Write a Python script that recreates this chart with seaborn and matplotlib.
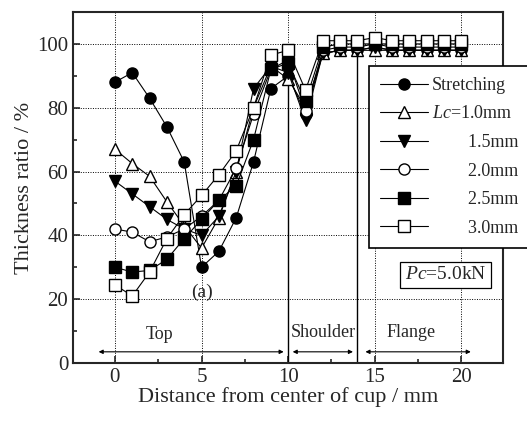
import matplotlib
matplotlib.use("Agg")
import matplotlib.pyplot as plt
from matplotlib.ticker import MultipleLocator
import seaborn as sns

sns.set_style("ticks")
plt.rcParams['font.family'] = ['Liberation Serif', 'DejaVu Serif']
plt.rcParams['mathtext.fontset'] = 'custom'
plt.rcParams['mathtext.rm'] = 'Liberation Serif'
plt.rcParams['mathtext.it'] = 'Liberation Serif:italic'

# distance from center of cup (mm)
dist = list(range(0, 21))

# thickness ratio (%)
stretching = [88, 91, 83, 74, 63, 30, 35, 45.5, 63, 86, 90, 78, 97, 98, 98, 99, 98, 98, 98, 98, 98]
lc_10 = [67, 62.5, 58.5, 50.5, 43, 36, 45.5, 60, 80, 93, 89, 80, 97, 98, 98, 98, 98, 98, 98, 98, 98]
lc_15 = [57, 53, 49, 45, 42, 40, 46, 60, 86, 93, 91, 76, 97, 98, 98, 99, 98, 98, 98, 98, 98]
lc_20 = [42, 41, 38, 39.5, 42, 46, 51, 61, 78, 92, 95, 79, 98, 99, 99, 100, 99, 99, 99, 99, 99]
lc_25 = [30, 28.5, 29, 32.5, 39, 45, 51, 55.5, 70, 92, 94, 82, 99, 100, 100, 100, 100, 100, 100, 100, 100]
lc_30 = [24.5, 21, 28.5, 39, 46.5, 52.5, 59, 66.5, 80, 96.5, 98, 85.5, 101, 101, 101, 102, 101, 101, 101, 101, 101]

labels = ['Stretching', r'$\mathit{Lc}$=1.0mm', '        1.5mm', '        2.0mm', '        2.5mm', '        3.0mm']
regions = ['Top', 'Shoulder', 'Flange']

fig = plt.figure(figsize=(5.27, 4.21), dpi=100)
ax = fig.add_axes([0.1385, 0.1378, 0.816, 0.8337])

# grid, drawn first so markers sit on top
for gx in [0, 5, 10, 15, 20]:
    ax.axvline(gx, color='black', lw=0.7, ls=(0, (1, 1.5)), zorder=0)
for gy in [20, 40, 60, 80, 100]:
    ax.axhline(gy, color='black', lw=0.7, ls=(0, (1, 1.5)), zorder=0)

series = [stretching, lc_10, lc_15, lc_20, lc_25, lc_30]
markers = ['o', '^', 'v', 'o', 's', 's']
fills = ['black', 'white', 'black', 'white', 'black', 'white']
for vals, mk, fc, lab in zip(series, markers, fills, labels):
    sns.lineplot(x=dist, y=vals, marker=mk, color='black', markerfacecolor=fc,
                 markeredgecolor='black', markeredgewidth=1.0, markersize=8,
                 lw=0.8, label=lab, ax=ax, zorder=3)

# region boundaries
ax.vlines(10, 0, 90, color='black', lw=1.0, zorder=2)
ax.vlines(14, 0, 97, color='black', lw=1.0, zorder=2)

# region arrows and names
arrow_kw = dict(arrowstyle='<|-|>', color='black', lw=0.8, mutation_scale=6)
ax.annotate('', xy=(-1.1, 3.5), xytext=(9.9, 3.5), arrowprops=arrow_kw)
ax.annotate('', xy=(10.1, 3.5), xytext=(13.9, 3.5), arrowprops=arrow_kw)
ax.annotate('', xy=(14.3, 3.5), xytext=(20.7, 3.5), arrowprops=arrow_kw)
ax.text(2.6, 9, regions[0], ha='center', va='center', fontsize=13)
ax.text(12.05, 9.5, regions[1], ha='center', va='center', fontsize=13)
ax.text(17.1, 9.5, regions[2], ha='center', va='center', fontsize=13)
ax.text(5, 22, '(a)', ha='center', va='center', fontsize=14)

ax.text(19.1, 27.6, r'$\mathit{Pc}$=5.0kN', ha='center', va='center', fontsize=14,
        bbox=dict(boxstyle='square,pad=0.25', fc='white', ec='black', lw=0.9))

ax.set_xlim(-2.42, 22.4)
ax.set_ylim(0, 110)
ax.xaxis.set_major_locator(MultipleLocator(5))
ax.xaxis.set_minor_locator(MultipleLocator(2.5))
ax.yaxis.set_major_locator(MultipleLocator(20))
ax.yaxis.set_minor_locator(MultipleLocator(10))
ax.tick_params(which='both', direction='in', labelsize=15, width=1.2)
ax.tick_params(which='major', length=5)
ax.tick_params(which='minor', length=3)
for sp in ax.spines.values():
    sp.set_linewidth(1.5)

ax.set_xlabel('Distance from center of cup / mm', fontsize=16, labelpad=0)
ax.set_ylabel('Thickness ratio / %', fontsize=16, labelpad=2)

leg = ax.legend(loc='upper left', bbox_to_anchor=(0.700, 0.843),
                bbox_transform=fig.transFigure, fontsize=13, frameon=True,
                fancybox=False, edgecolor='black', framealpha=1,
                handlelength=2.7, handletextpad=0.2, labelspacing=0.64,
                borderaxespad=0, borderpad=0.6)
leg.get_frame().set_linewidth(1.2)
leg.set_zorder(10)

fig.savefig('out.png', dpi=100)
